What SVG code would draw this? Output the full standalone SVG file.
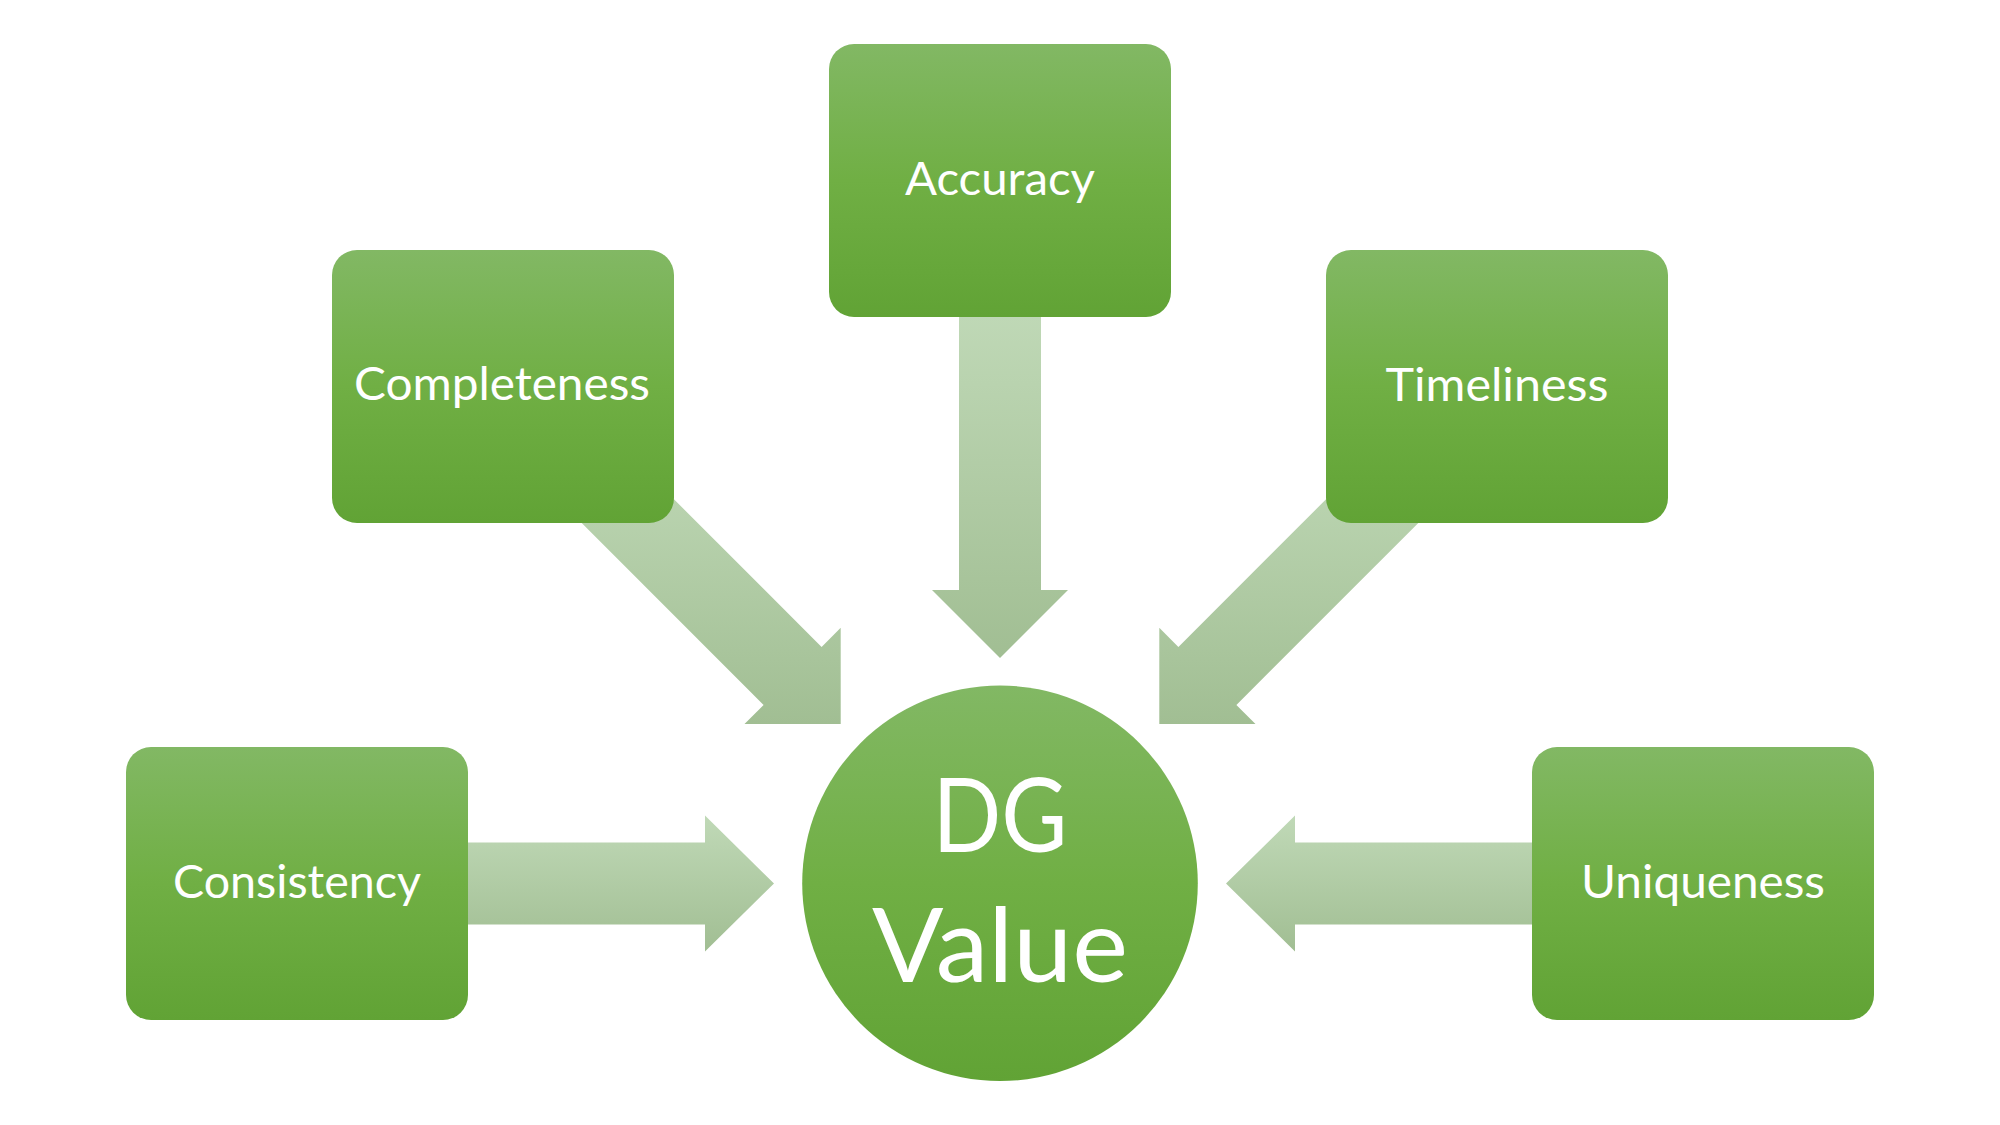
<svg xmlns="http://www.w3.org/2000/svg" width="2000" height="1125" viewBox="0 0 2000 1125">
<defs>
<linearGradient id="gBox" x1="0" y1="0" x2="0" y2="1">
<stop offset="0" stop-color="#82B864"/>
<stop offset="0.5" stop-color="#70AF44"/>
<stop offset="1" stop-color="#61A335"/>
</linearGradient>
<linearGradient id="gArrow" x1="0" y1="0" x2="0" y2="1">
<stop offset="0" stop-color="#C0D9B7"/>
<stop offset="1" stop-color="#A1BE93"/>
</linearGradient>
<style>
.box{fill:url(#gBox);}
.arrow{fill:url(#gArrow);}
.lbl{font-family:Lato,"Open Sans","Liberation Sans",sans-serif;font-size:46px;fill:#FFFFFF;text-anchor:middle;}
.big{font-family:Lato,"Open Sans","Liberation Sans",sans-serif;font-size:102px;fill:#FFFFFF;text-anchor:middle;}
</style>
</defs>
<rect width="2000" height="1125" fill="#FFFFFF"/>
<g id="connectors">
<polygon class="arrow" points="959,305 1041,305 1041,590 1068,590 1000,658 932,590 959,590"/>
<polygon class="arrow" points="609.5,434.8 821.6,646.9 840.7,627.8 840.7,724 744.5,724 763.6,704.9 551.5,492.8"/>
<polygon class="arrow" points="1390.5,434.8 1178.4,646.9 1159.3,627.8 1159.3,724 1255.5,724 1236.4,704.9 1448.5,492.8"/>
<polygon class="arrow" points="460,842.5 705,842.5 705,815.5 774,883.5 705,951.5 705,924.5 460,924.5"/>
<polygon class="arrow" points="1540,842.5 1295,842.5 1295,815.5 1226,883.5 1295,951.5 1295,924.5 1540,924.5"/>
</g>
<g id="node-accuracy">
<rect class="box" x="829" y="44" width="342" height="273" rx="25"/>
<text class="lbl" x="1000" y="195" textLength="190" lengthAdjust="spacingAndGlyphs">Accuracy</text>
</g>
<g id="node-completeness">
<rect class="box" x="332" y="250" width="342" height="273" rx="25"/>
<text class="lbl" x="502" y="400" textLength="296" lengthAdjust="spacingAndGlyphs">Completeness</text>
</g>
<g id="node-timeliness">
<rect class="box" x="1326" y="250" width="342" height="273" rx="25"/>
<text class="lbl" x="1497" y="400.5" textLength="223" lengthAdjust="spacingAndGlyphs">Timeliness</text>
</g>
<g id="node-consistency">
<rect class="box" x="126" y="747" width="342" height="273" rx="25"/>
<text class="lbl" x="297" y="898" textLength="248" lengthAdjust="spacingAndGlyphs">Consistency</text>
</g>
<g id="node-uniqueness">
<rect class="box" x="1532" y="747" width="342" height="273" rx="25"/>
<text class="lbl" x="1703" y="898" textLength="244" lengthAdjust="spacingAndGlyphs">Uniqueness</text>
</g>
<g id="node-dgvalue">
<circle class="box" cx="1000" cy="883.3" r="197.8"/>
<text class="big" x="1000" y="851.7" textLength="135" lengthAdjust="spacingAndGlyphs">DG</text>
<text class="big" x="1000" y="981.7" textLength="256" lengthAdjust="spacingAndGlyphs">Value</text>
</g>
</svg>
